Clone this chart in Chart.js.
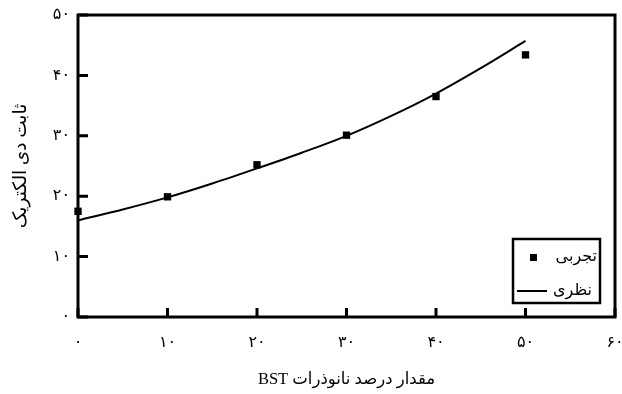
<!DOCTYPE html>
<html>
<head>
<meta charset="utf-8">
<script src="https://cdn.jsdelivr.net/npm/chart.js@4.4.0/dist/chart.umd.min.js"></script>
<style>
  html, body { margin: 0; padding: 0; background: #fff; }
  #wrap { width: 622px; height: 394px; }
</style>
</head>
<body>
<div id="wrap"><canvas id="dielectricChart" width="622" height="394" dir="rtl"></canvas></div>
<script>
// axis ticks
var xTicks = [0, 10, 20, 30, 40, 50, 60];
var xTickLabels = ['۰', '۱۰', '۲۰', '۳۰', '۴۰', '۵۰', '۶۰'];
var yTicks = [0, 10, 20, 30, 40, 50];
var yTickLabels = ['۰', '۱۰', '۲۰', '۳۰', '۴۰', '۵۰'];

// experimental (تجربی)
var expX = [0, 10, 20, 30, 40, 50];
var expY = [17.5, 19.9, 25.2, 30.1, 36.5, 43.4];

// theoretical (نظری)
var theoryX = [0, 5, 10, 15, 20, 25, 30, 35, 40, 45, 50];
var theoryY = [16.0, 17.8, 19.8, 22.1, 24.6, 27.2, 30.0, 33.3, 37.0, 41.2, 45.7];

var seriesLabels = ['تجربی', 'نظری'];
var xTitle = 'مقدار درصد نانوذرات BST';
var yTitle = 'ثابت دی الکتریک';

var FONT = "'Liberation Serif', 'DejaVu Serif', 'DejaVu Sans', serif";

function toPoints(xs, ys) {
  return xs.map(function (x, i) { return { x: x, y: ys[i] }; });
}

// frame + inward ticks
var framePlugin = {
  id: 'frame',
  beforeDatasetsDraw: function (chart) {
    var ctx = chart.ctx, a = chart.chartArea;
    var xs = chart.scales.x, ys = chart.scales.y;
    ctx.save();
    ctx.strokeStyle = '#000';
    ctx.lineWidth = 3;
    ctx.strokeRect(a.left, a.top, a.right - a.left, a.bottom - a.top);
    ctx.beginPath();
    xTicks.forEach(function (v) {
      var px = xs.getPixelForValue(v);
      ctx.moveTo(px, a.bottom);
      ctx.lineTo(px, a.bottom - 9);
    });
    yTicks.forEach(function (v) {
      var py = ys.getPixelForValue(v);
      ctx.moveTo(a.left, py);
      ctx.lineTo(a.left + 10, py);
    });
    ctx.stroke();
    ctx.restore();
  }
};

// legend box inside the plot, bottom right
var legendBoxPlugin = {
  id: 'legendBox',
  afterDraw: function (chart) {
    var ctx = chart.ctx, a = chart.chartArea;
    var right = a.right - 15, bottom = a.bottom - 14;
    var w = 87, h = 64;
    var left = right - w, top = bottom - h;
    ctx.save();
    ctx.strokeStyle = '#000';
    ctx.lineWidth = 2.5;
    ctx.strokeRect(left, top, w, h);
    ctx.fillStyle = '#000';
    ctx.font = '16px ' + FONT;
    ctx.textAlign = 'right';
    ctx.textBaseline = 'middle';
    var y1 = top + 18, y2 = top + 52;
    ctx.fillRect(left + 17, y1 - 3, 7, 7);
    ctx.fillText(seriesLabels[0], right - 3, y1);
    ctx.beginPath();
    ctx.lineWidth = 2;
    ctx.moveTo(left + 4, y2);
    ctx.lineTo(left + 34, y2);
    ctx.stroke();
    ctx.fillText(seriesLabels[1], right - 8, y2);
    ctx.restore();
  }
};

var chart = new Chart(document.getElementById('dielectricChart'), {
  type: 'scatter',
  data: {
    datasets: [{
      label: seriesLabels[0],
      data: toPoints(expX, expY),
      pointStyle: 'rect',
      pointRadius: 5.2,
      backgroundColor: '#000',
      borderColor: '#000',
      borderWidth: 0,
      showLine: false,
      clip: false
    }, {
      label: seriesLabels[1],
      data: toPoints(theoryX, theoryY),
      showLine: true,
      pointRadius: 0,
      borderColor: '#000',
      borderWidth: 2,
      cubicInterpolationMode: 'monotone',
      clip: false
    }]
  },
  options: {
    responsive: false,
    animation: false,
    layout: { padding: { top: 15, right: 7, left: 0, bottom: 0 } },
    plugins: {
      legend: { display: false },
      tooltip: { enabled: false }
    },
    scales: {
      x: {
        type: 'linear',
        min: 0,
        max: 60,
        afterFit: function (s) { s.height = 77; s.paddingLeft = 0; s.paddingRight = 0; },
        afterBuildTicks: function (s) { s.ticks = xTicks.map(function (v) { return { value: v }; }); },
        grid: { display: false },
        border: { display: false },
        ticks: {
          padding: 8,
          maxRotation: 0,
          color: '#000',
          font: { family: FONT, size: 16 },
          callback: function (v) { return xTickLabels[xTicks.indexOf(v)]; }
        },
        title: {
          display: true,
          text: xTitle,
          color: '#000',
          font: { family: FONT, size: 16.5 },
          padding: { top: 0, bottom: 4 }
        }
      },
      y: {
        type: 'linear',
        min: 0,
        max: 50,
        afterFit: function (s) { s.width = 78; s.paddingTop = 0; s.paddingBottom = 0; },
        afterBuildTicks: function (s) { s.ticks = yTicks.map(function (v) { return { value: v }; }); },
        grid: { display: false },
        border: { display: false },
        ticks: {
          padding: 0,
          color: '#000',
          font: { family: FONT, size: 16 },
          callback: function (v) { return yTickLabels[yTicks.indexOf(v)]; }
        },
        title: {
          display: true,
          text: yTitle,
          color: '#000',
          font: { family: FONT, size: 18.5 },
          padding: { top: 10, bottom: 0 }
        }
      }
    }
  },
  plugins: [framePlugin, legendBoxPlugin]
});
</script>
</body>
</html>
